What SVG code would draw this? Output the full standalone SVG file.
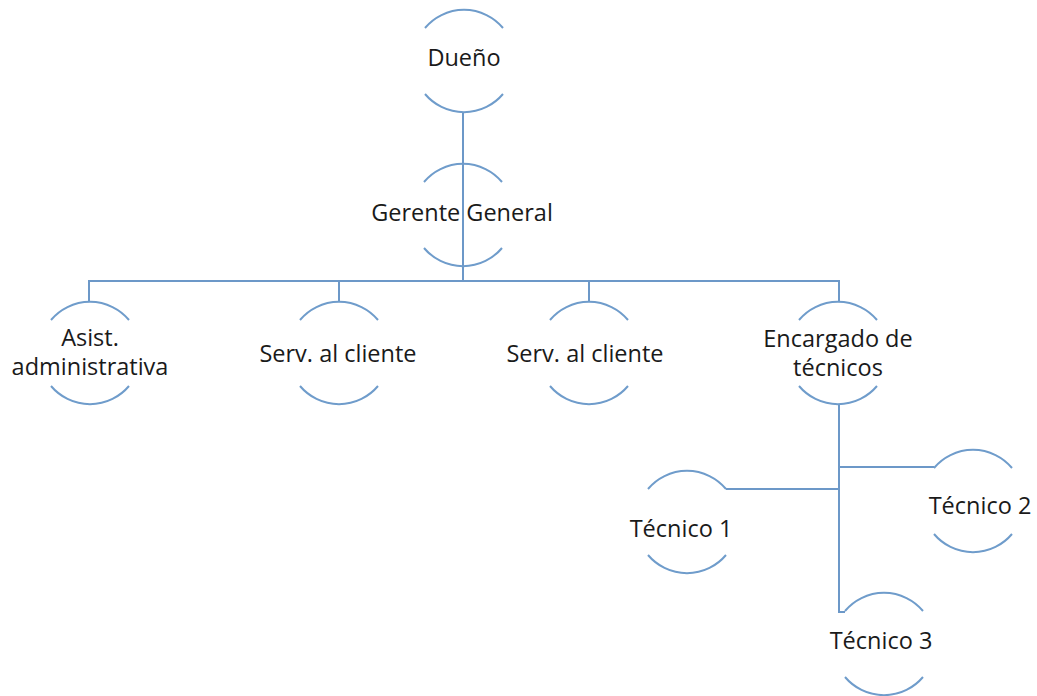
<svg xmlns="http://www.w3.org/2000/svg" xmlns:xlink="http://www.w3.org/1999/xlink" width="1037" height="696" viewBox="0 0 1037 696">
<style>
.arc{fill:none;stroke:#6F9CCB;stroke-width:2}
.con{fill:none;stroke:#6C98C8;stroke-width:2}
.t{font-family:"Open Sans","Noto Sans","Liberation Sans",sans-serif;font-size:23.5px;fill:#1a1a1a;text-anchor:middle}
</style>
<defs>
<g id="ring">
<path class="arc" d="M-39,-33 A51,51 0 0 1 39,-33"/>
<path class="arc" d="M-39,33 A51,51 0 0 0 39,33"/>
</g>
</defs>
<rect width="1037" height="696" fill="#ffffff"/>
<g id="connectors">
<path class="con" d="M463,112 V281"/>
<path class="con" d="M89,301 V281 H839 V301"/>
<path class="con" d="M339,281 V301"/>
<path class="con" d="M589,281 V301"/>
<path class="con" d="M839,404 V612 H845"/>
<path class="con" d="M839,489 H726"/>
<path class="con" d="M839,467 H934"/>
</g>
<g id="duenio">
<use xlink:href="#ring" transform="translate(464,61)"/>
<text class="t" x="464" y="66">Dueño</text>
</g>
<g id="gerente">
<use xlink:href="#ring" transform="translate(463,215)"/>
<text class="t" x="462" y="221">Gerente General</text>
</g>
<g id="asist">
<use xlink:href="#ring" transform="translate(90,353)"/>
<text class="t" x="90" y="346">Asist.</text>
<text class="t" x="90" y="375">administrativa</text>
</g>
<g id="serv1">
<use xlink:href="#ring" transform="translate(339,353)"/>
<text class="t" x="338" y="362">Serv. al cliente</text>
</g>
<g id="serv2">
<use xlink:href="#ring" transform="translate(589,353)"/>
<text class="t" x="585" y="362">Serv. al cliente</text>
</g>
<g id="encargado">
<use xlink:href="#ring" transform="translate(838,353)"/>
<text class="t" x="838" y="347">Encargado de</text>
<text class="t" x="838" y="376">técnicos</text>
</g>
<g id="tecnico1">
<use xlink:href="#ring" transform="translate(687,522)"/>
<text class="t" x="681" y="537">Técnico 1</text>
</g>
<g id="tecnico2">
<use xlink:href="#ring" transform="translate(973,501)"/>
<text class="t" x="980" y="514">Técnico 2</text>
</g>
<g id="tecnico3">
<use xlink:href="#ring" transform="translate(884,644)"/>
<text class="t" x="881" y="649">Técnico 3</text>
</g>
</svg>
